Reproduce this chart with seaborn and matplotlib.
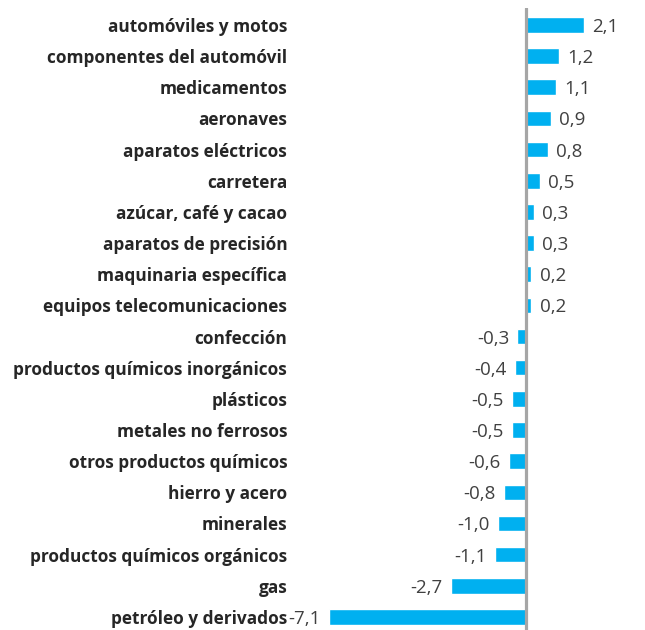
import pandas as pd
import seaborn as sns
import matplotlib.pyplot as plt

# categories and values (top to bottom)
categorias = ['automóviles y motos', 'componentes del automóvil', 'medicamentos',
              'aeronaves', 'aparatos eléctricos', 'carretera', 'azúcar, café y cacao',
              'aparatos de precisión', 'maquinaria específica', 'equipos telecomunicaciones',
              'confección', 'productos químicos inorgánicos', 'plásticos',
              'metales no ferrosos', 'otros productos químicos', 'hierro y acero',
              'minerales', 'productos químicos orgánicos', 'gas', 'petróleo y derivados']
valores = [2.1, 1.2, 1.1, 0.9, 0.8, 0.5, 0.3, 0.3, 0.2, 0.2,
           -0.3, -0.4, -0.5, -0.5, -0.6, -0.8, -1.0, -1.1, -2.7, -7.1]

df = pd.DataFrame({'categoria': categorias, 'valor': valores})

sns.set_style('white')
plt.rcParams['font.family'] = ['Open Sans', 'DejaVu Sans']

fig = plt.figure(figsize=(6.45, 6.30), dpi=100)
ax = fig.add_axes([290 / 645, 0, 355 / 645, 622 / 630])

sns.barplot(data=df, x='valor', y='categoria', orient='h', color='#00B0F0',
            saturation=1, width=0.5, ax=ax)

ax.set_xlim(-8.5, 4.3)
ax.set_ylim(19.42, -0.545)
ax.axvline(0, color='#A6A6A6', lw=2.3, zorder=3)

for i, v in enumerate(valores):
    txt = f'{v:.1f}'.replace('.', ',')
    if v >= 0:
        ax.annotate(txt, (v, i), xytext=(6, 0), textcoords='offset points',
                    ha='left', va='center_baseline', fontsize=13.5, color='#404040')
    else:
        ax.annotate(txt, (v, i), xytext=(-6, 0), textcoords='offset points',
                    ha='right', va='center_baseline', fontsize=13.5, color='#404040')

ax.set_xlabel('')
ax.set_ylabel('')
ax.set_xticks([])
ax.tick_params(axis='y', length=0, pad=2)
for lab in ax.get_yticklabels():
    lab.set_fontweight('bold')
    lab.set_fontsize(12.4)
    lab.set_color('#262626')
sns.despine(ax=ax, left=True, bottom=True)

fig.savefig('out.png', dpi=100)
